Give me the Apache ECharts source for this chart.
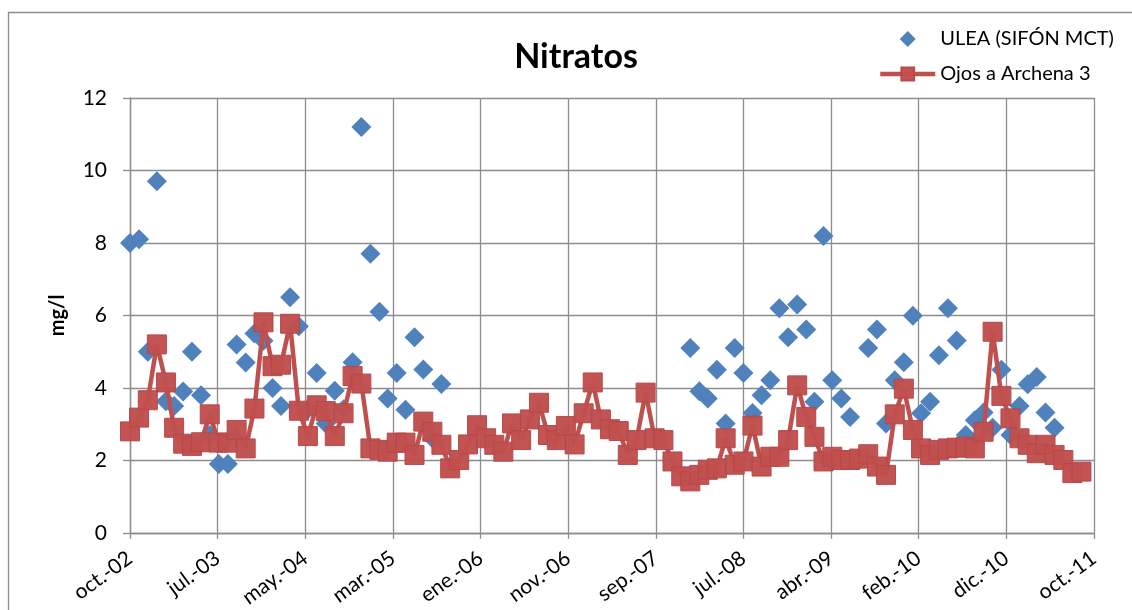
<!DOCTYPE html>
<html>
<head>
<meta charset="utf-8">
<title>Nitratos</title>
<script src="https://cdn.jsdelivr.net/npm/echarts@6/dist/echarts.min.js"></script>
<style>
  html, body { margin: 0; padding: 0; background: #ffffff; }
  #chart { width: 1132px; height: 610px; }
</style>
</head>
<body>
<div id="chart"></div>
<script>
// Monthly samples, first of each month, starting October 2002
const firstYear = 2002;
const firstMonthIndex = 9; // October (0-based)

// Ojos a Archena 3 (mg/l), Oct 2002 – Sep 2011
const ojos = [
  2.8, 3.18, 3.66, 5.2, 4.15, 2.9, 2.46, 2.4, 2.5, 3.27,
  2.49, 2.49, 2.84, 2.33, 3.43, 5.81, 4.6, 4.64, 5.77, 3.37,
  2.67, 3.52, 3.36, 2.67, 3.3, 4.33, 4.12, 2.33, 2.29, 2.24,
  2.49, 2.49, 2.15, 3.07, 2.79, 2.43, 1.78, 2.01, 2.44, 2.97,
  2.61, 2.43, 2.24, 3.02, 2.56, 3.13, 3.59, 2.7, 2.56, 2.95,
  2.44, 3.3, 4.15, 3.13, 2.86, 2.81, 2.15, 2.56, 3.87, 2.61,
  2.56, 1.97, 1.56, 1.42, 1.6, 1.74, 1.78, 2.61, 1.88, 1.97,
  2.96, 1.83, 2.1, 2.1, 2.56, 4.07, 3.2, 2.65, 1.97, 2.1,
  2.01, 2.01, 2.05, 2.17, 1.83, 1.6, 3.27, 3.98, 2.84, 2.33,
  2.15, 2.29, 2.33, 2.35, 2.38, 2.33, 2.79, 5.55, 3.78, 3.16,
  2.61, 2.43, 2.2, 2.43, 2.15, 2.01, 1.65, 1.69
];

// ULEA (SIFÓN MCT) (mg/l), same months; null = no sample
const ulea = [
  8.0, 8.1, 5.0, 9.7, 3.63, 3.5, 3.9, 5.0, 3.8, 2.7,
  1.9, 1.9, 5.2, 4.7, 5.5, 5.3, 4.0, 3.5, 6.5, 5.7,
  3.41, 4.41, 3.02, 3.92, 3.41, 4.71, 11.2, 7.7, 6.1, 3.71,
  4.41, 3.4, 5.4, 4.51, 2.61, 4.11, null, null, null, null,
  null, null, null, null, null, null, null, null, null, null,
  null, null, null, null, null, null, null, null, null, null,
  null, null, null, 5.1, 3.91, 3.71, 4.5, 3.02, 5.1, 4.41,
  3.31, 3.8, 4.21, 6.2, 5.4, 6.3, 5.61, 3.62, 8.19, 4.21,
  3.71, 3.2, 2.01, 5.1, 5.61, 3.02, 4.21, 4.71, 5.99, 3.3,
  3.62, 4.9, 6.2, 5.31, 2.7, 3.11, 3.32, 2.9, 4.5, 2.7,
  3.5, 4.1, 4.3, 3.32, 2.9, null, null, null
];

// Date axis: days counted from 1 Oct 2002, a tick every 300 days
const xTickLabels = [
  'oct.-02', 'jul.-03', 'may.-04', 'mar.-05', 'ene.-06', 'nov.-06',
  'sep.-07', 'jul.-08', 'abr.-09', 'feb.-10', 'dic.-10', 'oct.-11'
];
const xTickStep = 300;
const yTicks = { min: 0, max: 12, step: 2 };

const DAY_MS = 86400000;
const origin = Date.UTC(firstYear, firstMonthIndex, 1);
const dayOf = i => (Date.UTC(firstYear, firstMonthIndex + i, 1) - origin) / DAY_MS;

const ojosData = ojos.map((v, i) => [dayOf(i), v]);
const uleaData = ulea.map((v, i) => (v === null ? null : [dayOf(i), v])).filter(Boolean);

const FONT = 'Lato, "Open Sans", sans-serif';
const GRID_COLOR = '#8c8c8c';
const BLUE = '#4F81BD';
const RED = '#C0504D';
// diamond as a path so the legend keeps it square instead of stretching it
const DIAMOND_PATH = 'path://M0,-1L1,0L0,1L-1,0Z';

const chart = echarts.init(document.getElementById('chart'), null, { renderer: 'canvas' });

chart.setOption({
  animation: false,
  backgroundColor: '#ffffff',
  textStyle: { fontFamily: FONT },
  title: {
    text: 'Nitratos',
    left: 571,
    top: 35,
    textAlign: 'center',
    textStyle: { fontFamily: FONT, fontSize: 34, fontWeight: 'bold', color: '#000000' }
  },
  legend: {
    orient: 'vertical',
    left: 878,
    top: 29,
    padding: 0,
    itemWidth: 55,
    itemHeight: 16,
    itemGap: 15,
    symbolKeepAspect: true,
    textStyle: { fontFamily: FONT, fontSize: 20, color: '#000000' },
    data: [
      { name: 'ULEA (SIFÓN MCT)', icon: DIAMOND_PATH },
      { name: 'Ojos a Archena 3', lineStyle: { width: 4.5 } }
    ]
  },
  grid: { left: 130, top: 98, right: 38, bottom: 75, containLabel: false },
  xAxis: {
    type: 'value',
    min: 0,
    max: xTickStep * (xTickLabels.length - 1),
    interval: xTickStep,
    axisLine: { show: true, lineStyle: { color: GRID_COLOR, width: 1.3 } },
    axisTick: { show: true, length: 6, lineStyle: { color: GRID_COLOR, width: 1.3 } },
    splitLine: { show: true, lineStyle: { color: GRID_COLOR, width: 1.3 } },
    axisLabel: {
      rotate: 36,
      margin: 23,
      fontFamily: FONT,
      fontSize: 21,
      color: '#000000',
      formatter: v => xTickLabels[Math.round(v / xTickStep)] || ''
    }
  },
  yAxis: {
    type: 'value',
    min: yTicks.min,
    max: yTicks.max,
    interval: yTicks.step,
    name: 'mg/l',
    nameLocation: 'middle',
    nameGap: 62,
    nameTextStyle: { fontFamily: FONT, fontSize: 20, fontWeight: 'bold', color: '#000000' },
    axisLine: { show: true, lineStyle: { color: GRID_COLOR, width: 1.3 } },
    axisTick: { show: true, length: 7, lineStyle: { color: GRID_COLOR, width: 1.3 } },
    splitLine: { show: true, lineStyle: { color: GRID_COLOR, width: 1.3 } },
    axisLabel: { margin: 23, fontFamily: FONT, fontSize: 21, color: '#000000' }
  },
  graphic: [{
    type: 'rect',
    silent: true,
    z: -1,
    shape: { x: 8.5, y: 12.5, width: 1400, height: 900 },
    style: { fill: 'none', stroke: GRID_COLOR, lineWidth: 1.3 }
  }],
  series: [
    {
      name: 'Ojos a Archena 3',
      type: 'line',
      data: ojosData,
      symbol: 'rect',
      symbolSize: 19,
      showAllSymbol: true,
      lineStyle: { color: RED, width: 4.5 },
      itemStyle: { color: RED, borderColor: '#b5474a', borderWidth: 1, opacity: 0.97 },
      emphasis: { disabled: true }
    },
    {
      name: 'ULEA (SIFÓN MCT)',
      type: 'scatter',
      data: uleaData,
      symbol: 'diamond',
      symbolSize: [20, 20],
      itemStyle: { color: BLUE, opacity: 1 },
      emphasis: { disabled: true }
    }
  ]
});
</script>
</body>
</html>
